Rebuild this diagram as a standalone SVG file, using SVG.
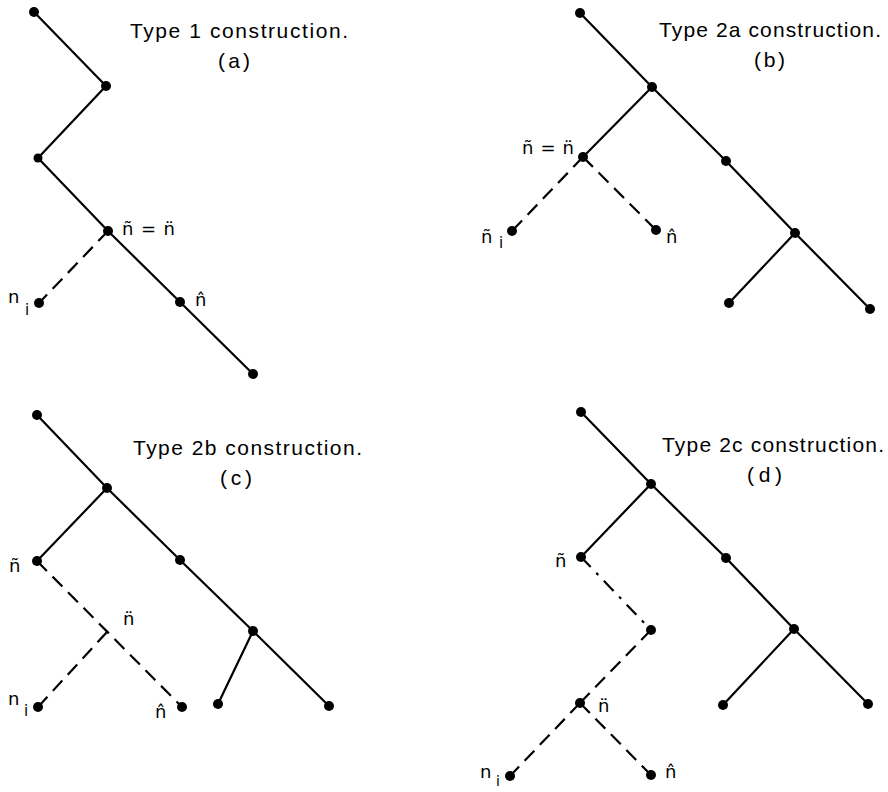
<svg xmlns="http://www.w3.org/2000/svg" width="888" height="792" viewBox="0 0 888 792">
<style>
.ln{stroke:#000;stroke-width:2.2;fill:none;stroke-linecap:round}
.ds{stroke:#000;stroke-width:2.2;fill:none;stroke-dasharray:14 8}
.dd{stroke:#000;stroke-width:2.2;fill:none;stroke-dasharray:14 8 3 8}
.dot{fill:#000}
.ttl{font-family:"Liberation Sans","DejaVu Sans",sans-serif;font-size:21px;fill:#000}
.lab{font-family:"DejaVu Sans","Liberation Sans",sans-serif;font-size:18px;fill:#000}
.sub{font-family:"DejaVu Sans","Liberation Sans",sans-serif;font-size:15px;fill:#000}
</style>
<rect width="888" height="792" fill="#fff"/>
<g id="connectors">
<polyline class="ln" points="34,12 106,86 38,158 108,231 180,302 253,374"/>
<line class="ds" x1="108" y1="231" x2="39" y2="303"/>
<polyline class="ln" points="580,13 652,87 726,161 795,233 870,309"/>
<line class="ln" x1="652" y1="87" x2="583" y2="157"/>
<line class="ln" x1="795" y1="233" x2="729" y2="303"/>
<line class="ds" x1="583" y1="157" x2="512" y2="231"/>
<line class="ds" x1="583" y1="157" x2="656" y2="230"/>
<polyline class="ln" points="37,415 107,488 180,560 253,631 329,706"/>
<line class="ln" x1="107" y1="488" x2="37" y2="561"/>
<line class="ln" x1="253" y1="631" x2="218" y2="704"/>
<line class="ds" x1="37" y1="561" x2="182" y2="707"/>
<line class="ds" x1="107" y1="632" x2="38" y2="707"/>
<polyline class="ln" points="581,412 651,484 726,558 794,629 868,704"/>
<line class="ln" x1="651" y1="484" x2="581" y2="557"/>
<line class="ln" x1="794" y1="629" x2="723" y2="705"/>
<line class="dd" x1="581" y1="557" x2="651" y2="630"/>
<line class="ds" x1="651" y1="630" x2="580" y2="703"/>
<line class="ds" x1="580" y1="703" x2="510" y2="776"/>
<line class="ds" x1="580" y1="703" x2="651" y2="775"/>
</g>
<g id="panel-a">
<text class="ttl" x="130" y="38" textLength="218" lengthAdjust="spacing">Type 1 construction.</text>
<text class="ttl" x="218" y="68" textLength="32" lengthAdjust="spacing">(a)</text>
<g id="a1"><circle class="dot" cx="34" cy="12" r="5"/></g>
<g id="a2"><circle class="dot" cx="106" cy="86" r="5"/></g>
<g id="a3"><circle class="dot" cx="38" cy="158" r="4.5"/></g>
<g id="a4"><circle class="dot" cx="108" cy="231" r="5"/><text class="lab" x="122" y="235" textLength="53" lengthAdjust="spacing">ñ = n̈</text></g>
<g id="a5"><circle class="dot" cx="39" cy="303" r="5"/><text class="lab" x="8" y="303">n</text><text class="sub" x="25" y="315">i</text></g>
<g id="a6"><circle class="dot" cx="180" cy="302" r="5"/><text class="lab" x="195" y="306">n̂</text></g>
<g id="a7"><circle class="dot" cx="253" cy="374" r="5"/></g>
</g>
<g id="panel-b">
<text class="ttl" x="659" y="37" textLength="222" lengthAdjust="spacing">Type 2a construction.</text>
<text class="ttl" x="754" y="67" textLength="31" lengthAdjust="spacing">(b)</text>
<g id="b1"><circle class="dot" cx="580" cy="13" r="5"/></g>
<g id="b2"><circle class="dot" cx="652" cy="87" r="5"/></g>
<g id="b3"><circle class="dot" cx="583" cy="157" r="5"/><text class="lab" x="522" y="154" textLength="52" lengthAdjust="spacing">ñ = n̈</text></g>
<g id="b4"><circle class="dot" cx="512" cy="231" r="5"/><text class="lab" x="481" y="243">ñ</text><text class="sub" x="499" y="248">i</text></g>
<g id="b5"><circle class="dot" cx="656" cy="230" r="5"/><text class="lab" x="666" y="243">n̂</text></g>
<g id="b6"><circle class="dot" cx="726" cy="161" r="5"/></g>
<g id="b7"><circle class="dot" cx="795" cy="233" r="5"/></g>
<g id="b8"><circle class="dot" cx="729" cy="303" r="5"/></g>
<g id="b9"><circle class="dot" cx="870" cy="309" r="5"/></g>
</g>
<g id="panel-c">
<text class="ttl" x="133" y="455" textLength="229" lengthAdjust="spacing">Type 2b construction.</text>
<text class="ttl" x="220" y="485" textLength="32" lengthAdjust="spacing">(c)</text>
<g id="c1"><circle class="dot" cx="37" cy="415" r="5"/></g>
<g id="c2"><circle class="dot" cx="107" cy="488" r="5"/></g>
<g id="c3"><circle class="dot" cx="37" cy="561" r="5"/><text class="lab" x="9" y="572">ñ</text></g>
<g id="c4"><circle class="dot" cx="180" cy="560" r="5"/></g>
<g id="c5"><circle class="dot" cx="253" cy="631" r="5"/></g>
<g id="c6"><text class="lab" x="123" y="625">n̈</text></g>
<g id="c7"><circle class="dot" cx="38" cy="707" r="5"/><text class="lab" x="8" y="705">n</text><text class="sub" x="24" y="716">i</text></g>
<g id="c8"><circle class="dot" cx="182" cy="707" r="5"/><text class="lab" x="155" y="718">n̂</text></g>
<g id="c9"><circle class="dot" cx="218" cy="704" r="5"/></g>
<g id="c10"><circle class="dot" cx="329" cy="706" r="5"/></g>
</g>
<g id="panel-d">
<text class="ttl" x="662" y="452" textLength="222" lengthAdjust="spacing">Type 2c construction.</text>
<text class="ttl" x="747" y="482" textLength="35" lengthAdjust="spacing">(d)</text>
<g id="d1"><circle class="dot" cx="581" cy="412" r="5"/></g>
<g id="d2"><circle class="dot" cx="651" cy="484" r="5"/></g>
<g id="d3"><circle class="dot" cx="581" cy="557" r="5"/><text class="lab" x="555" y="567">ñ</text></g>
<g id="d4"><circle class="dot" cx="726" cy="558" r="5"/></g>
<g id="d5"><circle class="dot" cx="794" cy="629" r="5"/></g>
<g id="d6"><circle class="dot" cx="651" cy="630" r="5"/></g>
<g id="d7"><circle class="dot" cx="580" cy="703" r="5"/><text class="lab" x="598" y="712">n̈</text></g>
<g id="d8"><circle class="dot" cx="510" cy="776" r="5"/><text class="lab" x="480" y="778">n</text><text class="sub" x="496" y="786" style="font-size:14px">i</text></g>
<g id="d9"><circle class="dot" cx="651" cy="775" r="5"/><text class="lab" x="665" y="778">n̂</text></g>
<g id="d10"><circle class="dot" cx="723" cy="705" r="5"/></g>
<g id="d11"><circle class="dot" cx="868" cy="704" r="5"/></g>
</g>
</svg>
